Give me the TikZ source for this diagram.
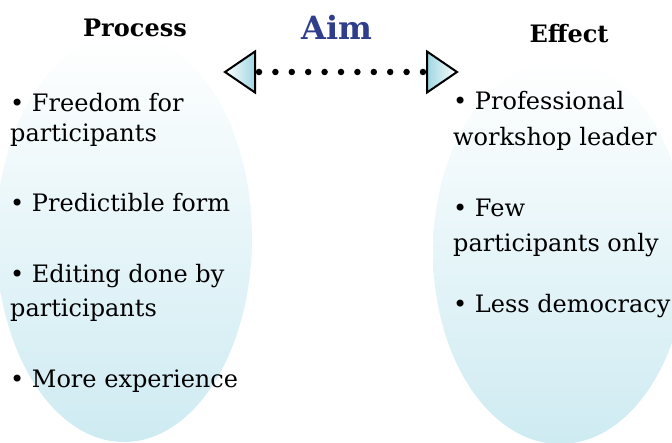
\documentclass[tikz,border=0pt]{standalone}
\usepackage{fontspec}
\setmainfont{DejaVu Serif}
\usetikzlibrary{shapes.geometric}
\definecolor{aimblue}{RGB}{46,61,140}
\definecolor{paleblue}{RGB}{206,235,242}
\definecolor{tipblue}{RGB}{160,213,226}
\begin{document}
\begin{tikzpicture}[x=1pt, y=-1pt,
	  title/.style={font=\fontsize{24}{28}\selectfont\bfseries, anchor=base, inner sep=0pt},
	  item/.style={font=\fontsize{24}{30}\selectfont, anchor=base west, inner sep=0pt},
	  bubble/.style={top color=white, bottom color=paleblue},
	  tipbox/.style={isosceles triangle, isosceles triangle stretches, minimum height=30pt, minimum width=41pt, inner sep=0pt, outer sep=0pt, draw=black, line width=2pt, anchor=apex},
	  dotline/.style={line width=6.5pt, line cap=round, dash pattern=on 0pt off 16.4pt, shorten <=4pt, shorten >=4pt}]
	  \clip (0,0) rectangle (672,443);

	  % the two bubbles
	  \shade [bubble] (124,238) ellipse [x radius=128pt, y radius=204pt];
	  \shade [bubble] (560,252) ellipse [x radius=127pt, y radius=192pt];

	  % headings
	  \node [title] (process) at (135,37) {Process};
	  \node [title, font=\fontsize{32}{38}\selectfont\bfseries, text=aimblue] (aim) at (337,40) {Aim};
	  \node [title] (effect) at (569,43) {Effect};

	  % double arrow
	  \node [tipbox, shape border rotate=180, left color=white, right color=tipblue] (larr) at (225,72) {};
	  \node [tipbox, left color=tipblue, right color=white] (rarr) at (457,72) {};
	  \draw [dotline] (larr.lower side) -- (rarr.lower side);

	  % process items
	  \node [item] (p1) at (10,112) {• Freedom for};
	  \node [item] (p1b) at (10,142) {participants};
	  \node [item] (p2) at (10,212) {• Predictible form};
	  \node [item] (p3) at (10,283) {• Editing done by};
	  \node [item] (p3b) at (10,317) {participants};
	  \node [item] (p4) at (10,388) {• More experience};

	  % effect items
	  \node [item] (e1) at (453,110) {• Professional};
	  \node [item] (e1b) at (453,146) {workshop leader};
	  \node [item] (e2) at (453,217) {• Few};
	  \node [item] (e2b) at (453,252) {participants only};
	  \node [item] (e3) at (453,313) {• Less democracy};

	\end{tikzpicture}
\end{document}
